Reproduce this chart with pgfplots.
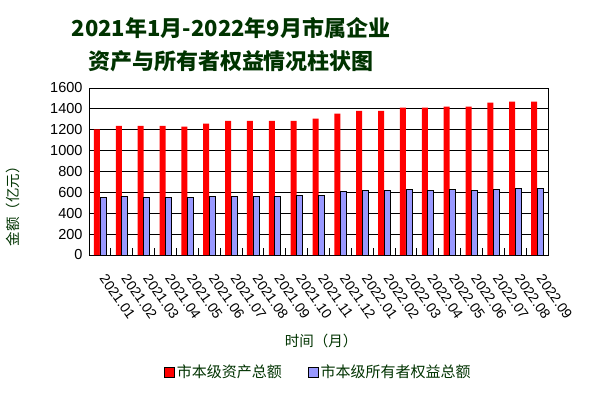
\documentclass[border=0pt]{standalone}
\usepackage{fontspec}
\setmainfont{Liberation Sans}
\newfontfamily\cjk{Noto Sans CJK SC}
\usepackage{pgfplots}
\pgfplotsset{compat=1.18}
\definecolor{dg}{RGB}{0,51,0}
\definecolor{bl}{RGB}{153,153,255}
\begin{document}
\begin{tikzpicture}
\useasboundingbox (0pt,0pt) rectangle (592pt,-398pt);
\node[font=\cjk\bfseries\fontsize{22}{26}\selectfont, text=dg] at (231pt,-28pt) {2021年1月-2022年9月市属企业};
\node[font=\cjk\bfseries\fontsize{22}{26}\selectfont, text=dg] at (231pt,-61pt) {资产与所有者权益情况柱状图};
\node[font=\cjk\fontsize{14.5}{16}\selectfont, text=dg, rotate=90] at (13pt,-203pt) {金额（亿元）};
\node[font=\cjk\fontsize{14.5}{16}\selectfont, text=dg] at (321pt,-341pt) {时间（月）};
\begin{axis}[
  at={(89pt,-255pt)}, anchor=south west,
  scale only axis, width=459pt, height=167pt,
  ybar=0pt, bar width=6pt,
  xmin=-0.5, xmax=20.5, ymin=0, ymax=1600,
  ytick={0,200,...,1600},
  ymajorgrids, grid style={black, line width=0.8pt},
  axis line style={black, line width=0.8pt},
  xtick={0,...,20},
  xticklabels={2021.01,2021.02,2021.03,2021.04,2021.05,2021.06,2021.07,2021.08,2021.09,2021.10,2021.11,2021.12,2022.01,2022.02,2022.03,2022.04,2022.05,2022.06,2022.07,2022.08,2022.09},
  minor xtick={0.5,1.5,...,19.5},
  xtick pos=bottom, ytick pos=left,
  tick align=inside,
  major x tick style={draw=none},
  ytick style={draw=none},
  minor tick length=7pt,
  minor x tick style={black, line width=0.8pt},
  /pgf/number format/assume math mode=true,
  /pgf/number format/1000 sep={},
  yticklabel style={font=\fontsize{14.5}{16}\selectfont, xshift=-3pt},
  xticklabel style={font=\fontsize{14}{15}\selectfont, yshift=-18pt, xshift=1pt, rotate=-55, anchor=west},
  legend style={at={(0.5,-0.70)}, anchor=center, draw=none, legend columns=2,
    font=\cjk\fontsize{15}{16}\selectfont, text=dg,
    /tikz/every even column/.append style={column sep=24pt}},
  legend image code/.code={\draw[#1] (0pt,-5pt) rectangle (10pt,5pt);},
]
\addplot[fill=red, draw=none] coordinates {
(0,1204) (1,1236) (2,1236) (3,1236) (4,1229) (5,1258) (6,1286) (7,1286) (8,1286) (9,1286) (10,1306)
(11,1354) (12,1382) (13,1382) (14,1411) (15,1411) (16,1421) (17,1421) (18,1459) (19,1469) (20,1469)};
\addplot[fill=bl, draw=black, line width=0.8pt] coordinates {
(0,553) (1,562) (2,553) (3,553) (4,554) (5,563) (6,563) (7,563) (8,563) (9,573) (10,573)
(11,611) (12,621) (13,621) (14,630) (15,621) (16,630) (17,621) (18,630) (19,640) (20,640)};
\legend{市本级资产总额, 市本级所有者权益总额}
\end{axis}
\end{tikzpicture}
\end{document}
